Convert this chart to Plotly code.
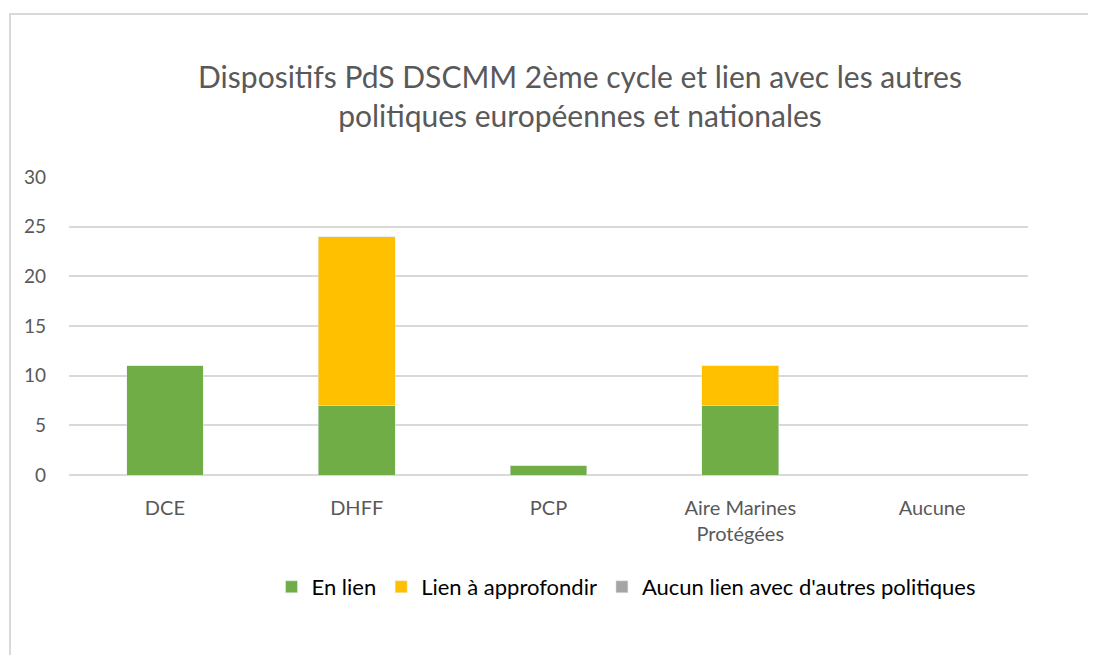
import plotly.graph_objects as go

categories = ["DCE", "DHFF", "PCP", "Aire Marines<br>Protégées", "Aucune"]
en_lien = [11, 7, 1, 7, 0]
lien_approfondir = [0, 17, 0, 4, 0]
aucun_lien = [0, 0, 0, 0, 0]
y_ticks = [0, 5, 10, 15, 20, 25, 30]

W, H = 1096, 655
OFF = 8  # body margin of the html page
# target screen positions of the plot area
SL, SR, ST, SB = 69, 1028, 177, 475
L = SL - OFF
T = ST - OFF
R = W - (SR - OFF)
B = H - (SB - OFF)
pw = W - L - R
ph = H - T - B

fig = go.Figure()
fig.add_bar(x=categories, y=en_lien, name="En lien", marker_color="#70AD47")
fig.add_bar(x=categories, y=lien_approfondir, name="Lien à approfondir", marker_color="#FFC000")
fig.add_bar(x=categories, y=aucun_lien, name="Aucun lien avec d'autres politiques", marker_color="#A5A5A5")

def px_x(sx):
    return (sx - OFF - L) / pw

def px_y(sy):
    return (H - B - (sy - OFF)) / ph

fig.update_layout(
    width=W, height=H,
    barmode="stack", bargap=0.6,
    margin=dict(l=L, r=R, t=T, b=B),
    paper_bgcolor="white", plot_bgcolor="white",
    font=dict(family="Lato", color="#595959", size=19),
    title=dict(
        text="Dispositifs PdS DSCMM 2ème cycle et lien avec les autres<br>politiques européennes et nationales",
        x=(580 - OFF) / W, xanchor="center", xref="container",
        y=1 - (88 - OFF) / H, yanchor="middle",
        font=dict(size=30, color="#595959", family="Lato"),
    ),
    xaxis=dict(showgrid=False, showline=False, ticks="", tickfont=dict(size=20, color="#595959"),
               ticklabelstandoff=19),
    yaxis=dict(range=[0, 30], tickvals=y_ticks, showgrid=True, gridcolor="#d9d9d9", gridwidth=1.5,
               zeroline=True, zerolinecolor="#d9d9d9", zerolinewidth=1.5,
               tickfont=dict(size=19, color="#595959"), ticklabelstandoff=22),
    legend=dict(orientation="h", x=px_x(626), xanchor="center", y=px_y(587), yanchor="middle",
                font=dict(size=22, color="#000000"), traceorder="normal", itemwidth=30),
    shapes=[dict(type="rect", xref="paper", yref="paper",
                 x0=px_x(10), x1=px_x(1120), y0=px_y(680), y1=px_y(14),
                 line=dict(color="#d9d9d9", width=2), layer="below")],
)

fig.write_html("out.html")
